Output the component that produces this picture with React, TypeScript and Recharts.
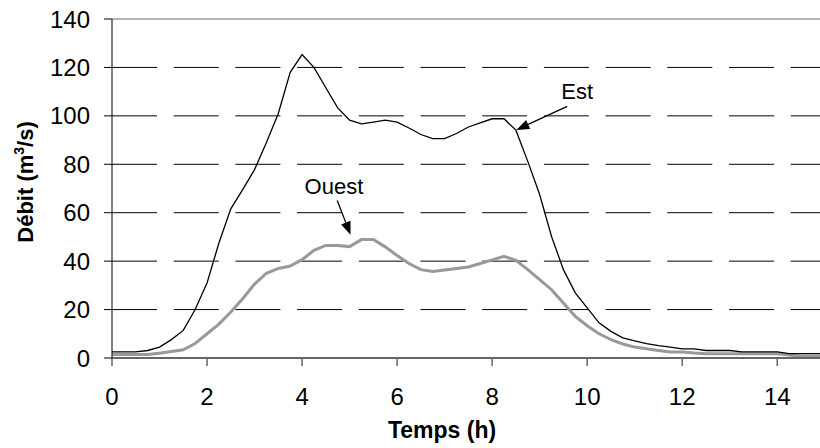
import React from "react";
import { LineChart, Line, XAxis, YAxis, ReferenceLine, ReferenceDot } from "recharts";

const FONT = "'Liberation Sans', Arial, sans-serif";

// time in hours (0.25 h step)
const TIME = [
  0, 0.25, 0.5, 0.75, 1, 1.25, 1.5, 1.75, 2, 2.25, 2.5, 2.75, 3, 3.25, 3.5, 3.75,
  4, 4.25, 4.5, 4.75, 5, 5.25, 5.5, 5.75, 6, 6.25, 6.5, 6.75, 7, 7.25, 7.5, 7.75,
  8, 8.25, 8.5, 8.75, 9, 9.25, 9.5, 9.75, 10, 10.25, 10.5, 10.75, 11, 11.25, 11.5, 11.75,
  12, 12.25, 12.5, 12.75, 13, 13.25, 13.5, 13.75, 14, 14.25, 14.5, 14.75, 15,
];

// débit Est (m3/s)
const EST = [
  2.5, 2.5, 2.5, 3.1, 4.5, 7.6, 11.4, 20, 31, 47.5, 61.6, 69.5, 77.8, 89, 101, 118,
  125.3, 120, 111.6, 103.3, 98.2, 96.7, 97.4, 98.2, 97.4, 95, 92.3, 90.6, 90.6, 92.7, 95.4, 97.1,
  98.8, 98.8, 94.1, 81.2, 67.5, 50.2, 36.5, 26.9, 20.7, 14.5, 11, 8.3, 7.1, 5.9, 5.1, 4.5,
  3.8, 3.8, 3.1, 3.1, 3.1, 2.5, 2.5, 2.5, 2.5, 1.8, 1.8, 1.8, 1.8,
];

// débit Ouest (m3/s)
const OUEST = [
  1.4, 1.4, 1.4, 1.4, 2, 2.7, 3.4, 6, 10, 14, 19, 24.5, 30.5, 35, 37, 38,
  40.6, 44.5, 46.5, 46.5, 46, 48.9, 48.9, 45.9, 42.3, 39, 36.5, 35.7, 36.3, 37, 37.6, 39,
  40.5, 42, 40.3, 36.5, 32.4, 28.2, 22.7, 17.2, 13.3, 10, 7.6, 5.8, 4.5, 3.8, 3.1, 2.5,
  2.5, 2.1, 1.8, 1.8, 1.8, 1.8, 1.8, 1.8, 1.8, 1.2, 0.7, 0.7, 0.7,
];

const X_TICKS = [0, 2, 4, 6, 8, 10, 12, 14];
const Y_TICKS = [0, 20, 40, 60, 80, 100, 120, 140];
const GRID_Y = [20, 40, 60, 80, 100, 120];

const rows = TIME.map((t, i) => ({ t, est: EST[i], ouest: OUEST[i] }));

// annotation anchors (data coordinates)
const EST_NOTE = { text: "Est", x: 9.79, y: 110.2, from: { x: 9.58, y: 103.9 }, to: { x: 8.51, y: 94.2 } };
const OUEST_NOTE = { text: "Ouest", x: 4.67, y: 70.9, from: { x: 4.74, y: 65 }, to: { x: 5.02, y: 50.9 } };

function Arrow(p: any) {
  const { x1, y1, x2, y2 } = p;
  const dx = x2 - x1, dy = y2 - y1;
  const len = Math.hypot(dx, dy) || 1;
  const ux = dx / len, uy = dy / len;
  const bx = x2 - ux * 13, by = y2 - uy * 13;
  const px = -uy * 5, py = ux * 5;
  return (
    <g>
      <line x1={x1} y1={y1} x2={bx} y2={by} stroke="#000" strokeWidth={1.3} />
      <polygon points={`${x2},${y2} ${bx + px},${by + py} ${bx - px},${by - py}`} fill="#000" />
    </g>
  );
}

function YLabel() {
  return (
    <text x={33} y={182} transform="rotate(-90 33 182)" textAnchor="middle"
      fontFamily={FONT} fontWeight="bold" fontSize={22} fill="#000">
      Débit (m<tspan fontSize={14} dy={-9}>3</tspan><tspan dy={9}>/s)</tspan>
    </text>
  );
}

function XLabel() {
  return (
    <text x={442} y={438} textAnchor="middle" fontFamily={FONT} fontWeight="bold" fontSize={23} fill="#000">
      Temps (h)
    </text>
  );
}

export default function App() {
  return (
    <div style={{ position: "absolute", left: 0, top: 0, width: 820, height: 448, background: "#fff" }}>
      <LineChart width={820} height={448} data={rows} margin={{ top: 19, right: 0, bottom: 0, left: 12 }}>
        <XAxis
          dataKey="t" type="number" domain={[0, 14.9]} ticks={X_TICKS} allowDataOverflow
          height={90} tickSize={8} tickMargin={22}
          axisLine={{ stroke: "#666", strokeWidth: 2 }} tickLine={{ stroke: "#666", strokeWidth: 1.5 }}
          tick={{ fill: "#000", fontSize: 24, fontFamily: FONT }}
          label={{ content: XLabel }}
        />
        <YAxis
          type="number" domain={[0, 140]} ticks={Y_TICKS} width={100} tickSize={8} tickMargin={14}
          axisLine={{ stroke: "#000", strokeWidth: 1 }} tickLine={{ stroke: "#000", strokeWidth: 1 }}
          tick={{ fill: "#000", fontSize: 24, fontFamily: FONT }}
          label={{ content: YLabel }}
        />
        <ReferenceLine y={140} stroke="#999" strokeWidth={1.5} />
        {GRID_Y.map((v) => (
          <ReferenceLine key={v} y={v} stroke="#000" strokeWidth={1} strokeDasharray="45 16.7" />
        ))}
        <Line type="linear" dataKey="ouest" stroke="#999" strokeWidth={3} dot={false} activeDot={false} isAnimationActive={false} />
        <Line type="linear" dataKey="est" stroke="#000" strokeWidth={1.3} dot={false} activeDot={false} isAnimationActive={false} />
        {[EST_NOTE, OUEST_NOTE].map((n) => (
          <ReferenceLine key={n.text + "-arrow"} segment={[n.from, n.to]} shape={Arrow} ifOverflow="visible" />
        ))}
        {[EST_NOTE, OUEST_NOTE].map((n) => (
          <ReferenceDot key={n.text} x={n.x} y={n.y} r={0} fill="none" stroke="none" ifOverflow="visible"
            label={{ value: n.text, position: "center", fontSize: 22, fill: "#000", fontFamily: FONT }} />
        ))}
      </LineChart>
    </div>
  );
}
